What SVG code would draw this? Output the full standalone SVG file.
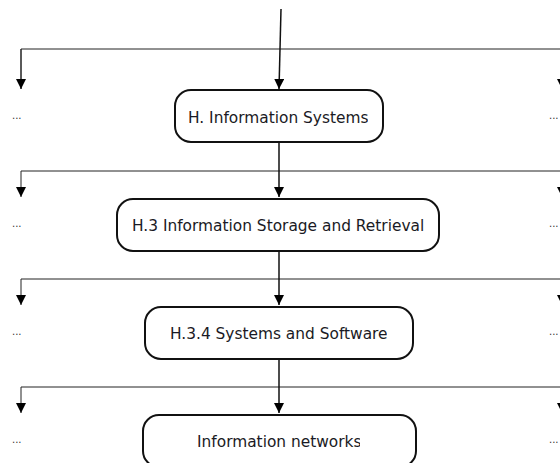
<svg xmlns="http://www.w3.org/2000/svg" width="560" height="463" viewBox="0 0 560 463">
<style>
.box{fill:#fff;stroke:#111;stroke-width:2}
.lbl{font-family:"DejaVu Sans",Verdana,sans-serif;font-size:15.4px;fill:#1a1a24}
.dots{font-family:"DejaVu Sans",Verdana,sans-serif;font-size:10px;fill:#333}
.edge{fill:none;stroke:#111;stroke-width:1.5}
.bus{fill:none;stroke:#222;stroke-width:1}
</style>
<defs>
<marker id="ah" markerUnits="userSpaceOnUse" markerWidth="10" markerHeight="10" refX="10" refY="5" orient="auto">
<path d="M0,0 L10,5 L0,10 z" fill="#000"/>
</marker>
<clipPath id="c1"><rect x="175" y="90" width="193" height="52"/></clipPath>
<clipPath id="c2"><rect x="117" y="199" width="308" height="52"/></clipPath>
<clipPath id="c3"><rect x="145" y="307" width="242" height="52"/></clipPath>
<clipPath id="c4"><rect x="143" y="415" width="217" height="52"/></clipPath>
</defs>
<g id="connectors">
<path class="bus" d="M21,89 V49 H562 V89" marker-end="url(#ah)"/>
<path class="bus" d="M21,49 V89" marker-end="url(#ah)"/>
<path class="edge" d="M281,9 L279,89" marker-end="url(#ah)"/>
<path class="bus" d="M21,171 H562 V197" marker-end="url(#ah)"/>
<path class="bus" d="M21,171 V197" marker-end="url(#ah)"/>
<path class="edge" d="M279,142 V197" marker-end="url(#ah)"/>
<path class="bus" d="M21,279 H562 V305" marker-end="url(#ah)"/>
<path class="bus" d="M21,279 V305" marker-end="url(#ah)"/>
<path class="edge" d="M279,251 V305" marker-end="url(#ah)"/>
<path class="bus" d="M21,387 H562 V413" marker-end="url(#ah)"/>
<path class="bus" d="M21,387 V413" marker-end="url(#ah)"/>
<path class="edge" d="M279,359 V413" marker-end="url(#ah)"/>
</g>
<g id="node-h">
<rect class="box" x="175" y="90" width="208" height="52" rx="16"/>
<text class="lbl" x="188" y="123" clip-path="url(#c1)">H. Information Systems</text>
</g>
<g id="node-h3">
<rect class="box" x="117" y="199" width="322" height="52" rx="16"/>
<text class="lbl" x="132" y="231" clip-path="url(#c2)">H.3 Information Storage and Retrieval</text>
</g>
<g id="node-h34">
<rect class="box" x="145" y="307" width="268" height="52" rx="16"/>
<text class="lbl" x="170" y="339" clip-path="url(#c3)">H.3.4 Systems and Software</text>
</g>
<g id="node-networks">
<rect class="box" x="143" y="415" width="273" height="52" rx="16"/>
<text class="lbl" x="197" y="447" clip-path="url(#c4)">Information networks</text>
</g>
<g id="siblings-left">
<text class="dots" x="12" y="119">...</text>
<text class="dots" x="12" y="227">...</text>
<text class="dots" x="12" y="335">...</text>
<text class="dots" x="12" y="443">...</text>
</g>
<g id="siblings-right">
<text class="dots" x="549" y="119">...</text>
<text class="dots" x="549" y="227">...</text>
<text class="dots" x="549" y="335">...</text>
<text class="dots" x="549" y="443">...</text>
</g>
</svg>
